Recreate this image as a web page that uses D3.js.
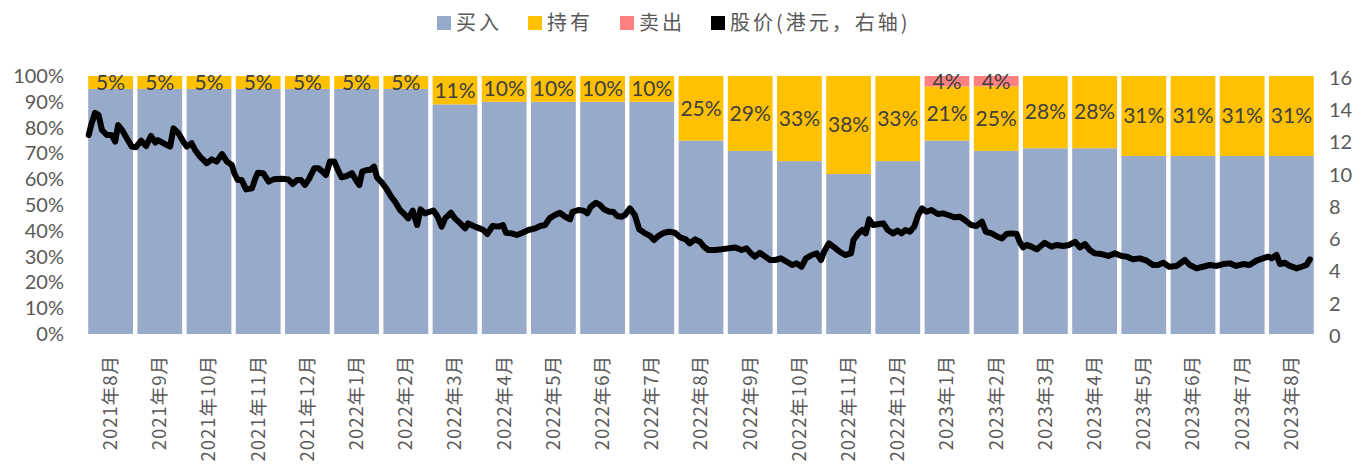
<!DOCTYPE html>
<html>
<head>
<meta charset="utf-8">
<script src="https://d3js.org/d3.v7.min.js"></script>
<style>
  body { margin: 0; background: #fff; }
  svg text { font-family: "Noto Sans CJK SC", sans-serif; }
</style>
</head>
<body>
<div id="chart"></div>
<script>
// categories
var months = ["2021年8月","2021年9月","2021年10月","2021年11月","2021年12月","2022年1月","2022年2月",
  "2022年3月","2022年4月","2022年5月","2022年6月","2022年7月","2022年8月","2022年9月","2022年10月",
  "2022年11月","2022年12月","2023年1月","2023年2月","2023年3月","2023年4月","2023年5月","2023年6月",
  "2023年7月","2023年8月"];

// rating shares (%)
var hold = [5,5,5,5,5,5,5,11,10,10,10,10,25,29,33,38,33,21,25,28,28,31,31,31,31];
var sell = [0,0,0,0,0,0,0,0,0,0,0,0,0,0,0,0,0,4,4,0,0,0,0,0,0];
var buy = hold.map(function(h, i) { return 100 - h - sell[i]; });

// share price (HKD), t = months since start of Aug 2021
var priceT = [0.01,0.06,0.14,0.21,0.28,0.38,0.48,0.55,0.61,0.69,0.79,0.89,0.97,1.08,1.18,1.28,1.37,1.42,1.57,1.67,
  1.74,1.84,1.94,2.01,2.11,2.18,2.28,2.42,2.52,2.62,2.73,2.83,2.93,2.98,3.05,3.13,3.22,3.34,3.41,3.46,
  3.57,3.68,3.78,3.95,4.08,4.17,4.26,4.34,4.42,4.51,4.61,4.70,4.78,4.85,4.93,5.02,5.10,5.17,5.27,5.38,
  5.46,5.53,5.59,5.68,5.75,5.83,5.89,6.00,6.09,6.18,6.26,6.36,6.46,6.53,6.62,6.71,6.78,6.87,6.96,7.04,
  7.12,7.21,7.28,7.40,7.48,7.59,7.69,7.75,7.86,7.98,8.06,8.14,8.25,8.37,8.46,8.52,8.64,8.74,8.86,8.98,
  9.12,9.22,9.32,9.41,9.52,9.62,9.73,9.83,9.88,10.00,10.10,10.18,10.25,10.36,10.44,10.52,10.63,10.71,10.79,10.88,
  10.95,11.05,11.15,11.24,11.36,11.46,11.54,11.63,11.75,11.85,11.97,12.07,12.19,12.27,12.38,12.48,12.56,12.65,12.79,12.92,
  13.06,13.19,13.33,13.43,13.52,13.60,13.70,13.81,13.91,14.01,14.13,14.25,14.36,14.45,14.55,14.64,14.76,14.86,14.95,15.01,
  15.11,15.22,15.33,15.44,15.56,15.61,15.71,15.79,15.86,15.93,16.01,16.13,16.22,16.31,16.42,16.51,16.59,16.67,16.76,16.85,
  16.93,17.01,17.10,17.20,17.33,17.44,17.54,17.67,17.78,17.88,18.01,18.12,18.23,18.31,18.43,18.55,18.64,18.73,18.83,18.94,
  19.00,19.07,19.14,19.21,19.35,19.51,19.65,19.75,19.89,20.01,20.13,20.23,20.33,20.43,20.53,20.67,20.81,20.94,21.08,21.18,
  21.31,21.45,21.59,21.72,21.82,21.93,22.05,22.20,22.37,22.47,22.61,22.74,22.88,23.02,23.15,23.29,23.42,23.56,23.69,23.83,
  23.96,24.07,24.14,24.24,24.31,24.41,24.51,24.65,24.75,24.85,24.92];
var priceV = [12.34,12.96,13.72,13.58,12.65,12.34,12.34,11.93,12.96,12.65,12.13,11.62,11.58,11.99,11.66,12.28,11.87,12.03,11.78,11.62,
  12.75,12.45,11.93,11.62,11.83,11.41,11.00,10.59,10.83,10.69,11.16,10.69,10.48,9.97,9.55,9.55,8.97,9.03,9.65,10.00,
  9.97,9.45,9.59,9.63,9.59,9.30,9.55,9.55,9.24,9.65,10.28,10.28,10.07,9.86,10.69,10.69,10.13,9.72,9.80,9.97,
  9.55,9.24,10.07,10.17,10.17,10.38,9.72,9.35,8.97,8.52,8.20,7.69,7.40,7.17,7.65,6.76,7.73,7.48,7.58,7.65,
  7.32,6.66,7.17,7.52,7.17,6.86,6.55,6.86,6.70,6.55,6.45,6.20,6.70,6.66,6.76,6.28,6.24,6.14,6.28,6.45,
  6.55,6.70,6.76,7.17,7.38,7.52,7.27,7.11,7.58,7.69,7.65,7.48,7.89,8.14,8.00,7.73,7.58,7.58,7.32,7.27,
  7.38,7.79,7.38,6.49,6.24,6.08,5.83,6.08,6.28,6.34,6.28,6.00,5.87,5.62,5.87,5.72,5.41,5.21,5.21,5.25,
  5.31,5.37,5.21,5.31,5.00,4.80,5.04,4.80,4.59,4.59,4.69,4.48,4.28,4.38,4.17,4.69,4.90,5.00,4.59,5.10,
  5.62,5.37,5.10,4.90,5.00,5.83,6.24,6.45,6.24,7.11,6.76,6.82,6.86,6.45,6.24,6.41,6.24,6.45,6.34,6.66,
  7.38,7.79,7.58,7.69,7.44,7.48,7.38,7.24,7.27,7.07,6.76,6.70,6.97,6.34,6.24,6.03,5.93,6.20,6.24,6.20,
  5.72,5.37,5.52,5.46,5.25,5.66,5.41,5.52,5.46,5.52,5.72,5.37,5.58,5.21,5.00,4.96,4.84,5.00,4.84,4.80,
  4.63,4.69,4.55,4.28,4.28,4.42,4.17,4.22,4.59,4.28,4.07,4.17,4.28,4.22,4.34,4.38,4.22,4.34,4.28,4.55,
  4.69,4.80,4.69,4.90,4.34,4.42,4.22,4.07,4.17,4.28,4.63];

var leftTicks = [0,10,20,30,40,50,60,70,80,90,100];
var rightTicks = [0,2,4,6,8,10,12,14,16];

var colBuy = "#98AAC9", colHold = "#FFC000", colSell = "#FF8080";

var W = 1358, H = 468;
var svg = d3.select("#chart").append("svg").attr("width", W).attr("height", H);

// scales
var x = d3.scaleBand().domain(months).range([86, 1316]).paddingInner(0.09).paddingOuter(0.045);
var y = d3.scaleLinear().domain([0, 100]).range([334, 76]);
var y2 = d3.scaleLinear().domain([0, 16]).range([334, 76]);
var xt = d3.scaleLinear().domain([0, 25])
  .range([x(months[0]), x(months[months.length - 1]) + x.bandwidth()]);

// stacked bars
var stackData = months.map(function(m, i) { return {m: m, buy: buy[i], hold: hold[i], sell: sell[i]}; });
var series = d3.stack().keys(["buy", "hold", "sell"])(stackData);
var colors = {buy: colBuy, hold: colHold, sell: colSell};

svg.append("g").selectAll("g").data(series).enter().append("g")
  .attr("fill", function(s) { return colors[s.key]; })
  .selectAll("rect").data(function(s) { return s; }).enter().append("rect")
  .attr("x", function(d) { return x(d.data.m); })
  .attr("width", x.bandwidth())
  .attr("y", function(d) { return y(d[1]); })
  .attr("height", function(d) { return y(d[0]) - y(d[1]); });

// labels on hold and sell segments
series.slice(1).forEach(function(s) {
  svg.append("g").selectAll("text").data(s.filter(function(d) { return d[1] - d[0] > 0; })).enter().append("text")
    .attr("x", function(d) { return x(d.data.m) + x.bandwidth() / 2; })
    .attr("y", function(d) { return (y(d[0]) + y(d[1])) / 2; })
    .attr("dy", "0.35em")
    .attr("text-anchor", "middle")
    .style("font-family", "Lato, sans-serif")
    .style("font-size", "21px")
    .attr("fill", "#404040")
    .text(function(d) { return (d[1] - d[0]) + "%"; });
});

// price line
var line = d3.line()
  .x(function(d) { return xt(d[0]); })
  .y(function(d) { return y2(d[1]); })
  .curve(d3.curveLinear);
svg.append("path")
  .datum(priceT.map(function(t, i) { return [t, priceV[i]]; }))
  .attr("fill", "none")
  .attr("stroke", "#000")
  .attr("stroke-width", 6)
  .attr("stroke-linejoin", "round")
  .attr("stroke-linecap", "round")
  .attr("d", line);

// left axis
var axL = svg.append("g").attr("transform", "translate(64,0)")
  .call(d3.axisLeft(y).tickValues(leftTicks).tickSize(0).tickPadding(0).tickFormat(function(d) { return d + "%"; }));
axL.select(".domain").remove();
axL.selectAll("text").style("font-family", "Lato, sans-serif").style("font-size", "20px").attr("fill", "#595959");

// right axis
var axR = svg.append("g").attr("transform", "translate(1329,2)")
  .call(d3.axisRight(y2).tickValues(rightTicks).tickSize(0).tickPadding(0));
axR.select(".domain").remove();
axR.selectAll("text").style("font-family", "Lato, sans-serif").style("font-size", "20px").attr("fill", "#595959");

// x labels, rotated
svg.append("g").selectAll("text").data(months).enter().append("text")
  .attr("transform", function(d) { return "translate(" + (x(d) + x.bandwidth() / 2) + ",355) rotate(-90)"; })
  .attr("text-anchor", "end")
  .attr("dy", "0.35em")
  .style("font-size", "18.5px")
  .style("letter-spacing", "1px")
  .attr("fill", "#595959")
  .text(function(d) { return d; });

// legend
var legend = [
  {name: "买入", color: colBuy, x: 437},
  {name: "持有", color: colHold, x: 528},
  {name: "卖出", color: colSell, x: 620},
  {name: "股价(港元，右轴)", color: "#000", x: 711}
];
var lg = svg.append("g").selectAll("g").data(legend).enter().append("g")
  .attr("transform", function(d) { return "translate(" + d.x + ",0)"; });
lg.append("rect").attr("x", 0).attr("y", 16).attr("width", 14).attr("height", 14)
  .attr("fill", function(d) { return d.color; });
lg.append("text").attr("x", 19).attr("y", 23).attr("dy", "0.35em")
  .style("font-size", "20px").style("letter-spacing", "3px").attr("fill", "#595959")
  .text(function(d) { return d.name; });
</script>
</body>
</html>
